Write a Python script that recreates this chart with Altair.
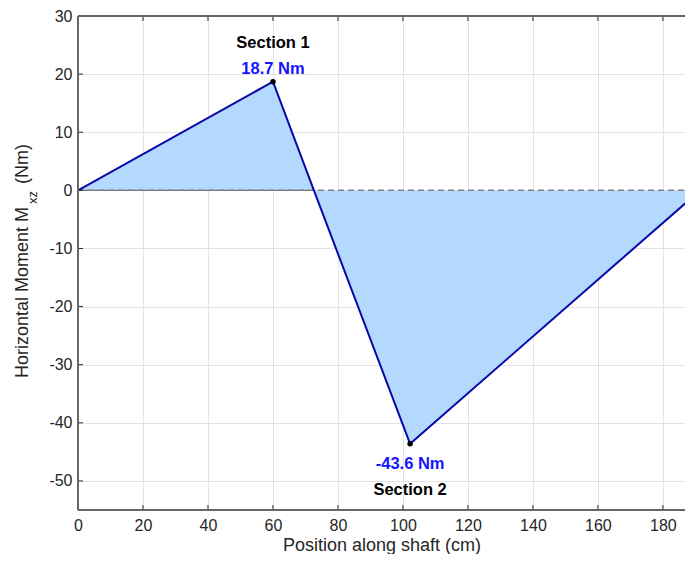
import altair as alt
import pandas as pd

# ---- data ----
position_cm = [0, 60.0, 72.6, 102.2, 189.0]
moment_nm = [0, 18.7, 0, -43.6, -1.2]

peak_pos = [60.0, 102.2]
peak_val = [18.7, -43.6]
peak_label = ["18.7 Nm", "-43.6 Nm"]
section_label = ["Section 1", "Section 2"]

x_tick_values = [0, 20, 40, 60, 80, 100, 120, 140, 160, 180]
y_tick_values = [-50, -40, -30, -20, -10, 0, 10, 20, 30]
x_domain = [0, 186.8]
y_domain = [-55, 30]

zero_solid_pos = [0, 72.6]
zero_dashed_pos = [0, 189]

W, H = 607, 494
FONT = "Liberation Sans"
TXT = "#262626"
BOX = "#666666"

df = pd.DataFrame({"pos": position_cm, "m": moment_nm})
df_peaks = pd.DataFrame({"pos": peak_pos, "m": peak_val,
                         "val": peak_label, "sec": section_label})
df_zs = pd.DataFrame({"pos": zero_solid_pos, "m": [0, 0]})
df_zd = pd.DataFrame({"pos": zero_dashed_pos, "m": [0, 0]})
df_xt = pd.DataFrame({"pos": x_tick_values})
df_yt = pd.DataFrame({"m": y_tick_values})

xs = alt.Scale(domain=x_domain, nice=False, zero=False)
ys = alt.Scale(domain=y_domain, nice=False, zero=False)

x_axis = alt.Axis(values=x_tick_values, grid=True, ticks=False, domain=False,
                  labelFontSize=16, titleFontSize=18, labelPadding=7,
                  titlePadding=3, labelColor=TXT, titleColor=TXT,
                  titleFontWeight="normal", gridColor="#e3e3e3",
                  labelFlush=False, labelFont=FONT, titleFont=FONT,
                  labelExpr="'' + datum.value")
y_axis = alt.Axis(values=y_tick_values, grid=True, ticks=False, domain=False,
                  labelFontSize=16, labelPadding=6, labelColor=TXT,
                  gridColor="#e3e3e3", labelFont=FONT, title=None,
                  labelExpr="'' + datum.value")

X = alt.X("pos:Q", scale=xs, axis=x_axis, title="Position along shaft (cm)")
Y = alt.Y("m:Q", scale=ys, axis=y_axis)

area = alt.Chart(df).mark_area(color="#b3d9ff", opacity=1, clip=True).encode(
    x=X, y=Y, y2=alt.datum(0))
zero_solid = alt.Chart(df_zs).mark_line(color="#5a5a5a", strokeWidth=1).encode(x=X, y=Y)
zero_dashed = alt.Chart(df_zd).mark_line(color="#808080", strokeWidth=1.5,
                                          strokeDash=[6, 4], clip=True).encode(x=X, y=Y)
line = alt.Chart(df).mark_line(color="#0808a8", strokeWidth=2, clip=True).encode(x=X, y=Y)
pts = alt.Chart(df_peaks).mark_circle(color="black", size=30, opacity=1).encode(x=X, y=Y)

val_top = alt.Chart(df_peaks).transform_filter(alt.datum.m > 0).mark_text(
    dy=-13, fontSize=16.5, fontWeight="bold", color="#1414ff", font=FONT,
    baseline="middle").encode(x=X, y=Y, text="val:N")
sec_top = alt.Chart(df_peaks).transform_filter(alt.datum.m > 0).mark_text(
    dy=-39, fontSize=16.5, fontWeight="bold", color="black", font=FONT,
    baseline="middle").encode(x=X, y=Y, text="sec:N")
val_bot = alt.Chart(df_peaks).transform_filter(alt.datum.m < 0).mark_text(
    dy=20, fontSize=16.5, fontWeight="bold", color="#1414ff", font=FONT,
    baseline="middle").encode(x=X, y=Y, text="val:N")
sec_bot = alt.Chart(df_peaks).transform_filter(alt.datum.m < 0).mark_text(
    dy=46, fontSize=16.5, fontWeight="bold", color="black", font=FONT,
    baseline="middle").encode(x=X, y=Y, text="sec:N")

# inward ticks on the visible sides
tk = dict(color=TXT, strokeWidth=1)
t_bottom = alt.Chart(df_xt).mark_rule(**tk).encode(x=X, y=alt.value(H), y2=alt.value(H - 5))
t_top = alt.Chart(df_xt).mark_rule(**tk).encode(x=X, y=alt.value(0), y2=alt.value(5))
t_left = alt.Chart(df_yt).mark_rule(**tk).encode(y=Y, x=alt.value(0), x2=alt.value(5))

# axes box (top, bottom, left; right side runs off the picture)
bx = dict(color=BOX, strokeWidth=1)
b_top = alt.Chart(df_xt).mark_rule(**bx).encode(x=alt.value(0), x2=alt.value(W), y=alt.value(0))
b_bot = alt.Chart(df_xt).mark_rule(**bx).encode(x=alt.value(0), x2=alt.value(W), y=alt.value(H))
b_left = alt.Chart(df_xt).mark_rule(**bx).encode(x=alt.value(0), y=alt.value(0), y2=alt.value(H))

# y-axis title with subscript, built from text pieces
title_main = alt.Chart(pd.DataFrame({"t": ["Horizontal Moment M"]})).mark_text(
    angle=270, align="right", baseline="alphabetic", fontSize=18, color=TXT,
    font=FONT).encode(x=alt.value(-50), y=alt.value(191), text="t:N")
title_sub = alt.Chart(pd.DataFrame({"t": ["xz"]})).mark_text(
    angle=270, align="left", baseline="alphabetic", fontSize=13, color=TXT,
    font=FONT).encode(x=alt.value(-41), y=alt.value(188), text="t:N")
title_unit = alt.Chart(pd.DataFrame({"t": ["(Nm)"]})).mark_text(
    angle=270, align="left", baseline="alphabetic", fontSize=18, color=TXT,
    font=FONT).encode(x=alt.value(-50), y=alt.value(168), text="t:N")

chart = alt.layer(
    area, zero_solid, zero_dashed, line, pts,
    val_top, sec_top, val_bot, sec_bot,
    t_bottom, t_top, t_left, b_top, b_bot, b_left,
    title_main, title_sub, title_unit,
).properties(
    width=W, height=H,
    autosize=alt.AutoSizeParams(type="none"),
    padding={"left": 70, "top": 8, "right": 0, "bottom": 44},
).configure_view(strokeWidth=0).configure(font=FONT)

chart.save("out.html", embed_options={"renderer": "svg", "actions": False})
